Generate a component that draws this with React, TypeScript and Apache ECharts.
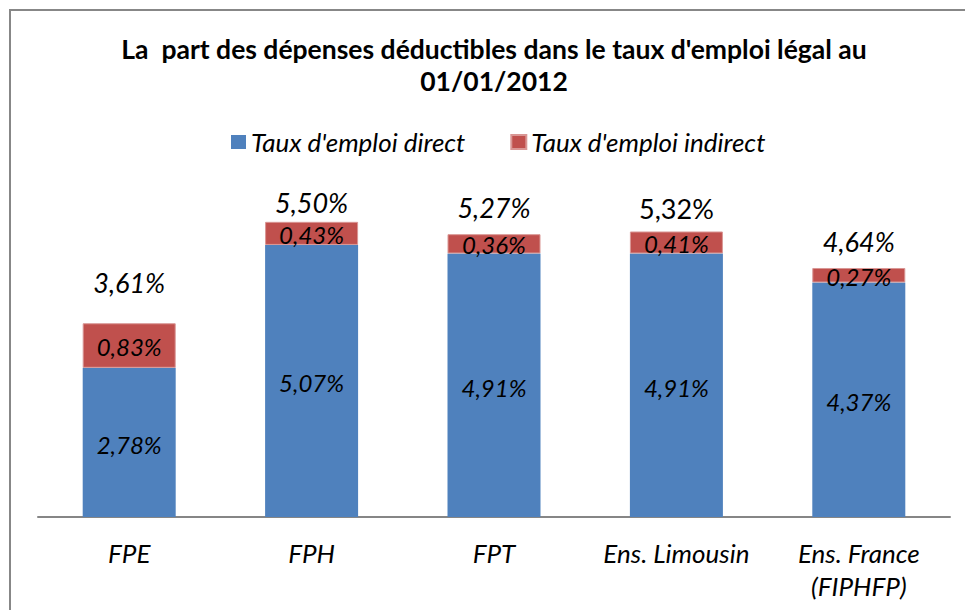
import React, { useEffect, useRef } from "react";
import * as echarts from "echarts";

const categories = ["FPE", "FPH", "FPT", "Ens. Limousin", "Ens. France\n(FIPHFP)"];
const directValues = [2.78, 5.07, 4.91, 4.91, 4.37];
const indirectValues = [0.83, 0.43, 0.36, 0.41, 0.27];
const totalValues = [3.61, 5.5, 5.27, 5.32, 4.64];
const totalLabelOffsets = [-22, -1, -8, -4, -8];
const totalItalic = [true, true, true, false, true];

const fmt = (v: number) => v.toFixed(2).replace(".", ",") + "%";
const FONT = "Lato, 'Open Sans', sans-serif";

export default function App() {
  const ref = useRef<HTMLDivElement>(null);
  useEffect(() => {
    if (!ref.current) return;
    const chart = echarts.init(ref.current, undefined, { renderer: "svg" });
    chart.setOption({
      animation: false,
      backgroundColor: "#ffffff",
      title: {
        text: "La  part des dépenses déductibles dans le taux d'emploi légal au\n01/01/2012",
        left: 489,
        textAlign: "center",
        top: 28,
        textStyle: { fontFamily: FONT, fontWeight: "bold", fontSize: 26.5, color: "#000", lineHeight: 32 },
      },
      legend: {
        top: 124,
        left: 226,
        itemWidth: 15,
        itemHeight: 14,
        itemGap: 45,
        icon: "rect",
        textStyle: { fontFamily: FONT, fontStyle: "italic", fontSize: 26, color: "#000" },
        data: ["Taux d'emploi direct", "Taux d'emploi indirect"],
      },
      graphic: [
        {
          type: "rect",
          shape: { x: 10, y: 10, width: 1000, height: 700 },
          style: { fill: "none", stroke: "#878787", lineWidth: 2 },
          silent: true,
        },
      ],
      grid: { left: 38, right: 15, top: 195, bottom: 93, containLabel: false },
      xAxis: {
        type: "category",
        data: categories,
        axisLine: { lineStyle: { color: "#868686", width: 2 } },
        axisTick: { show: false },
        axisLabel: {
          interval: 0,
          fontFamily: FONT,
          fontStyle: "italic",
          fontSize: 26,
          color: "#000",
          margin: 19,
          lineHeight: 33,
          verticalAlign: "top",
        },
      },
      yAxis: { type: "value", min: 0, max: 6, show: false, splitLine: { show: false } },
      series: [
        {
          name: "Taux d'emploi direct",
          type: "bar",
          stack: "t",
          barWidth: 93,
          data: directValues,
          itemStyle: { color: "#4F81BD" },
          label: {
            show: true,
            position: "inside",
            offset: [0, 2],
            formatter: (p: any) => fmt(p.value),
            fontFamily: FONT,
            fontStyle: "italic",
            fontSize: 24,
            color: "#000",
          },
        },
        {
          name: "Taux d'emploi indirect",
          type: "bar",
          stack: "t",
          barWidth: 93,
          data: indirectValues,
          itemStyle: { color: "#C0504D", borderColor: "#D99694", borderWidth: 1 },
          label: {
            show: true,
            position: "inside",
            offset: [0, 1],
            formatter: (p: any) => fmt(p.value),
            fontFamily: FONT,
            fontStyle: "italic",
            fontSize: 24,
            color: "#000",
          },
        },
        {
          name: "Total",
          type: "scatter",
          symbolSize: 0,
          silent: true,
          itemStyle: { opacity: 1 },
          data: totalValues.map((v, i) => ({
            value: v,
            label: {
              offset: [0, totalLabelOffsets[i]],
              fontStyle: totalItalic[i] ? "italic" : "normal",
            },
          })),
          label: {
            show: true,
            position: "top",
            formatter: (p: any) => fmt(p.value),
            fontFamily: FONT,
            fontSize: 27,
            color: "#000",
          },
        },
      ],
    });
    return () => chart.dispose();
  }, []);
  return (
    <div
      ref={ref}
      style={{ position: "absolute", left: 0, top: 0, width: 965, height: 610 }}
    />
  );
}
